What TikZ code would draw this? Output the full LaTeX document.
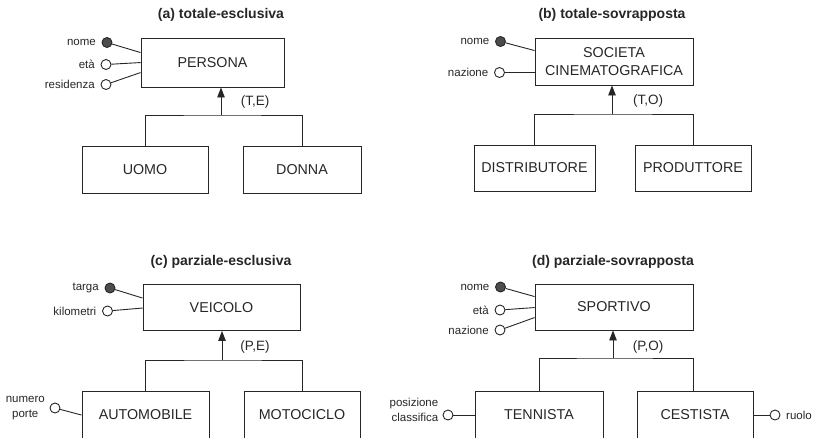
\documentclass[tikz,border=0pt]{standalone}
\usepackage{fontspec}
\setmainfont{Liberation Sans}
\usetikzlibrary{arrows.meta,calc}
\begin{document}
\begin{tikzpicture}[x=1pt, y=-1pt, line width=0.9pt, black!85,
		ent/.style = {draw, inner sep=0pt, minimum height=47pt, font=\fontsize{14.3}{18}\selectfont, align=center},
		attr/.style = {draw, circle, inner sep=0pt, minimum size=10pt},
		key/.style = {attr, fill=black!70},
		lab/.style = {font=\fontsize{11.5}{14.5}\selectfont, label distance=2pt},
		card/.style = {font=\fontsize{13.5}{15}\selectfont},
		title/.style = {font=\bfseries\fontsize{14}{16}\selectfont},
		isa/.style = {-{Triangle[length=10pt, width=7.5pt]}}]
		\useasboundingbox (0,0) rectangle (813,437);
		\clip (0,0) rectangle (813,437);
		
		% (a) totale-esclusiva
		\node[title] (a-title) at (221,15) {(a) totale-esclusiva};
		\node[ent, minimum width=143pt, minimum height=49pt] (persona) at (212.5,62.5) {PERSONA};
		\node[ent, minimum width=126pt] (uomo) at (145,169.5) {UOMO};
		\node[ent, minimum width=118pt] (donna) at (302,169.5) {DONNA};
		\node[key, label={[lab]left:nome}] (a-nome) at (107,42.5) {};
		\node[attr, label={[lab]left:età}] (a-eta) at (106,64.5) {};
		\node[attr, label={[lab]left:residenza}] (a-res) at (106,84.5) {};
		\draw (a-nome) -- ($(persona.north west)+(0,15)$);
		\draw (a-eta) -- ($(persona.north west)+(0,25)$);
		\draw (a-res) -- ($(persona.north west)+(0,35)$);
		\coordinate (a-isa) at (221,115);
		\draw[isa] (a-isa) -- (a-isa |- persona.south);
		\draw (uomo.north) |- (a-isa) -| (donna.north);
		\node[card] (a-card) at (255,102) {(T,E)};
		
		% (b) totale-sovrapposta
		\node[title] (b-title) at (612,15) {(b) totale-sovrapposta};
		\node[ent, minimum width=158pt] (societa) at (614,61.5) {SOCIETA\\CINEMATOGRAFICA};
		\node[ent, minimum width=121pt, minimum height=46pt] (distributore) at (534.5,168) {DISTRIBUTORE};
		\node[ent, minimum width=116pt, minimum height=46pt] (produttore) at (693,168) {PRODUTTORE};
		\node[key, label={[lab]left:nome}] (b-nome) at (500.5,41.5) {};
		\node[attr, label={[lab]left:nazione}] (b-naz) at (499.5,72.5) {};
		\draw (b-nome) -- ($(societa.north west)+(0,13)$);
		\draw (b-naz) -- (b-naz -| societa.west);
		\coordinate (b-isa) at (612,114);
		\draw[isa] (b-isa) -- (b-isa |- societa.south);
		\draw (distributore.north) |- (b-isa) -| (produttore.north);
		\node[card] (b-card) at (648,101) {(T,O)};
		
		% (c) parziale-esclusiva
		\node[title] (c-title) at (221,262) {(c) parziale-esclusiva};
		\node[ent, minimum width=157pt, minimum height=46pt] (veicolo) at (221.5,307.5) {VEICOLO};
		\node[ent, minimum width=127pt] (automobile) at (145.5,415) {AUTOMOBILE};
		\node[ent, minimum width=116pt] (motociclo) at (302,415) {MOTOCICLO};
		\node[key, label={[lab]left:targa}] (c-targa) at (110,288) {};
		\node[attr, label={[lab]left:kilometri}] (c-km) at (107.5,311) {};
		\node[attr, label={[lab, align=center, label distance=1pt]left:numero\\porte}] (c-porte) at (55,408) {};
		\draw (c-targa) -- ($(veicolo.north west)+(0,14)$);
		\draw (c-km) -- ($(veicolo.north west)+(0,24)$);
		\draw (c-porte) -- ($(automobile.north west)+(0,24)$);
		\coordinate (c-isa) at (222,360);
		\draw[isa] (c-isa) -- (c-isa |- veicolo.south);
		\draw (automobile.north) |- (c-isa) -| (motociclo.north);
		\node[card] (c-card) at (255,347) {(P,E)};
		
		% (d) parziale-sovrapposta
		\node[title] (d-title) at (613,262) {(d) parziale-sovrapposta};
		\node[ent, minimum width=158pt, minimum height=46pt] (sportivo) at (614,307) {SPORTIVO};
		\node[ent, minimum width=128pt] (tennista) at (539,415) {TENNISTA};
		\node[ent, minimum width=116pt] (cestista) at (695,415) {CESTISTA};
		\node[key, label={[lab]left:nome}] (d-nome) at (500.5,287) {};
		\node[attr, label={[lab]left:età}] (d-eta) at (500,310) {};
		\node[attr, label={[lab]left:nazione}] (d-naz) at (500,330) {};
		\node[attr, label={[lab, align=right, label distance=0.5pt, yshift=5pt]left:posizione\\classifica}] (d-pos) at (448,415) {};
		\node[attr, label={[lab]right:ruolo}] (d-ruolo) at (775,415) {};
		\draw (d-nome) -- ($(sportivo.north west)+(0,13)$);
		\draw (d-eta) -- ($(sportivo.north west)+(0,24)$);
		\draw (d-naz) -- ($(sportivo.north west)+(0,34)$);
		\draw (d-pos) -- (d-pos -| tennista.west);
		\draw (cestista.east) -- (d-ruolo);
		\coordinate (d-isa) at (613,358);
		\draw[isa] (d-isa) -- (d-isa |- sportivo.south);
		\draw (tennista.north) |- (d-isa) -| ([xshift=-2pt]cestista.north);
		\node[card] (d-card) at (648,347) {(P,O)};
	\end{tikzpicture}
\end{document}
